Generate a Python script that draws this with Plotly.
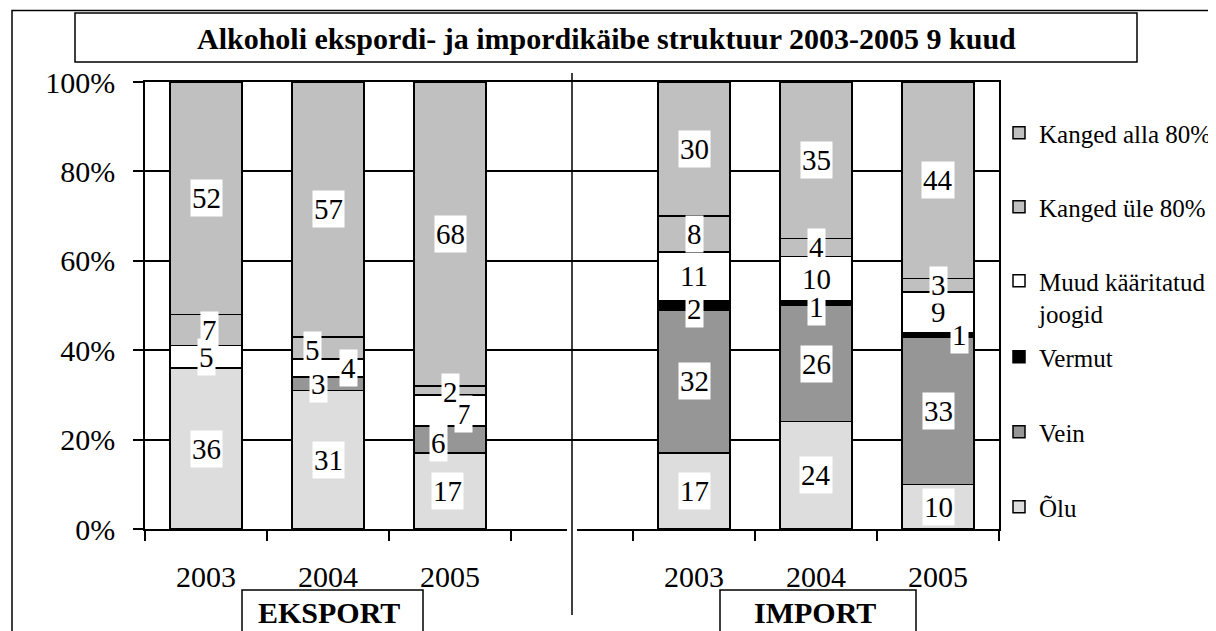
import plotly.graph_objects as go

# ---------------- data ----------------
title_text = "Alkoholi ekspordi- ja impordikäibe struktuur 2003-2005 9 kuud"
group_labels = ["EKSPORT", "IMPORT"]
cat_ids = ["E2003", "E2004", "E2005", "gap", "I2003", "I2004", "I2005"]
tick_text = ["2003", "2004", "2005", "", "2003", "2004", "2005"]
bar_ids = ["E2003", "E2004", "E2005", "I2003", "I2004", "I2005"]

series_names = ["Õlu", "Vein", "Vermut", "Muud kääritatud<br>joogid",
                "Kanged üle 80%", "Kanged alla 80%"]
olu = [36, 31, 17, 17, 24, 10]
vein = [0, 3, 6, 32, 26, 33]
vermut = [0, 0, 0, 2, 1, 1]
muud = [5, 4, 7, 11, 10, 9]
kanged_ule = [7, 5, 2, 8, 4, 3]
kanged_alla = [52, 57, 68, 30, 35, 44]
series_values = [olu, vein, vermut, muud, kanged_ule, kanged_alla]

# ---------------- style ----------------
colors = ["#dddddd", "#969696", "#000000", "#ffffff", "#c0c0c0", "#c0c0c0"]
FONT = "Liberation Serif, Times New Roman, Times, DejaVu Serif, serif"
OFF = 8                       # page body margin
W, H = 1216 - OFF, 631 - OFF  # figure size
# plot area in page pixels: x 145..999, y 82..529
L, T = 145 - OFF, 82 - OFF
R = W - (999 - OFF)
B = H - (529 - OFF)
PW, PH = W - L - R, H - T - B


def px_x(x):
    """page pixel x -> paper"""
    return (x - OFF - L) / PW


def px_y(y):
    """page pixel y -> paper"""
    return (H - B - (y - OFF)) / PH


# label offsets (series index, bar index) -> (xshift, yshift)
label_shift = {
    (4, 0): (3, 0),
    (1, 1): (-10, 0),
    (3, 1): (20, 0),
    (4, 1): (-16, -2),
    (0, 2): (-3, 0),
    (1, 2): (-12, -3),
    (3, 2): (13, -3),
    (4, 2): (0, -2),
    (2, 3): (0, -3),
    (2, 4): (0, -4),
    (2, 5): (21, 0),
}

# legend centres (page px) for each series
legend_keys = ["legend7", "legend6", "legend5", "legend4", "legend3", "legend2"]
legend_y_px = [507, 432, 357, 297, 207, 133]

fig = go.Figure()
for s, (name, vals) in enumerate(zip(series_names, series_values)):
    fig.add_trace(go.Bar(
        x=bar_ids, y=vals, name=name,
        marker=dict(color=colors[s], line=dict(color="black", width=1.5)),
        legend=legend_keys[s], hoverinfo="skip", showlegend=True,
    ))

annotations = []
cum = [0] * len(bar_ids)
for s, vals in enumerate(series_values):
    for i, v in enumerate(vals):
        if v:
            xs, ys = label_shift.get((s, i), (0, 0))
            annotations.append(dict(
                x=bar_ids[i], y=cum[i] + v / 2, xref="x", yref="y",
                text=str(v), showarrow=False, bgcolor="white", borderpad=1,
                height=34,
                font=dict(family=FONT, size=29, color="black"),
                xshift=xs, yshift=ys,
            ))
        cum[i] += v

# title
annotations.append(dict(
    x=px_x(606), y=px_y(38), xref="paper", yref="paper", text=title_text,
    showarrow=False, font=dict(family=FONT, size=30, color="black", weight="bold"),
    xanchor="center", yanchor="middle"))
# group labels
for lab, cx in zip(group_labels, [329, 815]):
    annotations.append(dict(
        x=px_x(cx), y=px_y(612), xref="paper", yref="paper", text=lab,
        showarrow=False, font=dict(family=FONT, size=30, color="black", weight="bold"),
        xanchor="center", yanchor="middle"))

shapes = [
    # outer frame
    dict(type="rect", xref="paper", yref="paper", x0=px_x(12), x1=px_x(1214.5),
         y0=px_y(700), y1=px_y(10.5), line=dict(color="black", width=1.5),
         fillcolor="rgba(0,0,0,0)", layer="below"),
    # title box
    dict(type="rect", xref="paper", yref="paper", x0=px_x(75), x1=px_x(1137),
         y0=px_y(62), y1=px_y(13), line=dict(color="black", width=1.5),
         fillcolor="white", layer="below"),
    # group boxes
    dict(type="rect", xref="paper", yref="paper", x0=px_x(242), x1=px_x(423),
         y0=px_y(680), y1=px_y(590), line=dict(color="black", width=1.5),
         fillcolor="white", layer="below"),
    dict(type="rect", xref="paper", yref="paper", x0=px_x(720), x1=px_x(916),
         y0=px_y(680), y1=px_y(590), line=dict(color="black", width=1.5),
         fillcolor="white", layer="below"),
    # gap in axis line around the divider
    dict(type="line", xref="paper", yref="paper", x0=px_x(567), x1=px_x(577),
         y0=0, y1=0, line=dict(color="white", width=4), layer="above"),
    # divider between export and import
    dict(type="line", xref="x", yref="paper", x0=3, x1=3,
         y0=px_y(615), y1=px_y(73), line=dict(color="black", width=1.5), layer="above"),
]

layout = dict(
    width=W, height=H,
    margin=dict(l=L, r=R, t=T, b=B, autoexpand=False),
    paper_bgcolor="white", plot_bgcolor="white",
    barmode="stack", bargap=0.41, showlegend=True,
    font=dict(family=FONT, color="black"),
    annotations=annotations, shapes=shapes,
    xaxis=dict(
        type="category", categoryorder="array", categoryarray=cat_ids,
        range=[-0.5, 6.5], tickmode="array", tickvals=cat_ids, ticktext=tick_text,
        tickson="boundaries", ticks="outside", ticklen=10, tickwidth=1.5,
        tickcolor="black", showline=True, linecolor="black", linewidth=1.5,
        mirror=True, showgrid=False, ticklabelstandoff=20,
        tickfont=dict(family=FONT, size=30, color="black"),
    ),
    yaxis=dict(
        range=[0, 100], dtick=20, ticksuffix="%", ticks="outside", ticklen=10,
        tickwidth=1.5, tickcolor="black", showline=True, linecolor="black",
        linewidth=1.5, mirror=True, showgrid=True, gridcolor="black", gridwidth=1.5,
        zeroline=False, ticklabelstandoff=12,
        tickfont=dict(family=FONT, size=30, color="black"),
    ),
    legend=dict(visible=False),
)
for key, ypx in zip(legend_keys, legend_y_px):
    layout[key] = dict(
        x=px_x(999), xanchor="left", y=px_y(ypx), yanchor="middle",
        font=dict(family=FONT, size=25, color="black"), bgcolor="rgba(0,0,0,0)",
        borderwidth=0, valign="top", visible=True,
    )

fig.update_layout(**layout)
fig.write_html("out.html")
